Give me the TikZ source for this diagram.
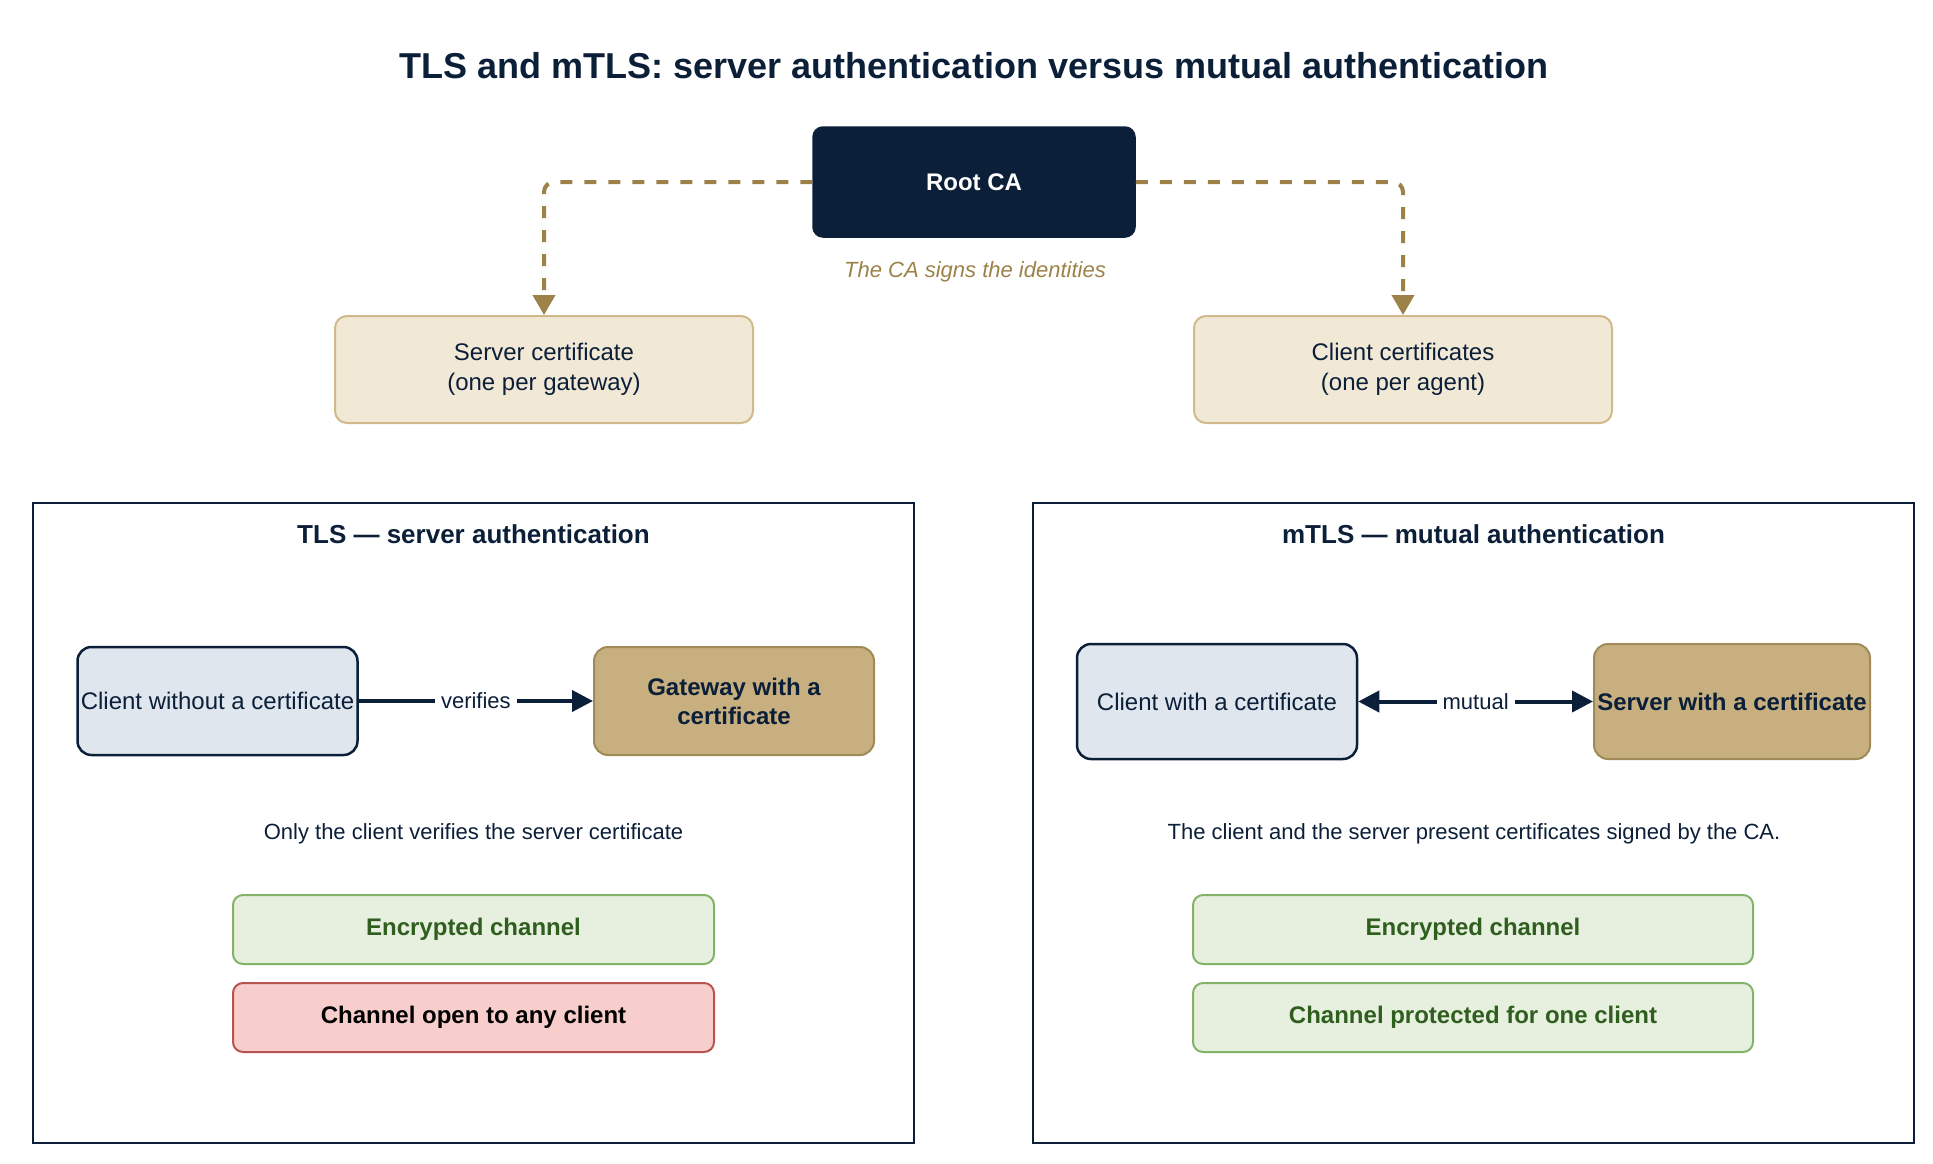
\documentclass[tikz,border=0pt]{standalone}
\usepackage{fontspec}
\setmainfont{Liberation Sans}
\usetikzlibrary{
arrows.meta,
positioning,
calc
}
\definecolor{navy}{HTML}{0B1F38}
\definecolor{gold}{HTML}{9C8248}
\definecolor{beige}{HTML}{F2E8D6}
\definecolor{beigeline}{HTML}{D0BA8C}
\definecolor{paleblue}{HTML}{DFE6EE}
\definecolor{sand}{HTML}{C8AF7F}
\definecolor{sandline}{HTML}{A08A55}
\definecolor{palegreen}{HTML}{E7F0DF}
\definecolor{greenline}{HTML}{82B366}
\definecolor{darkgreen}{HTML}{2F5E1F}
\definecolor{palered}{HTML}{F8CECC}
\definecolor{redline}{HTML}{B85450}

\begin{document}
\begin{tikzpicture}
[x=1pt, y=-1pt,
block_root/.style ={ rectangle, draw=navy, fill=navy, text=white, text centered, minimum width=322pt, minimum height=110pt, rounded corners=10pt, line width=1.5pt, font=\fontsize{24}{29}\selectfont\bfseries},
block_cert/.style ={ rectangle, draw=beigeline, fill=beige, text=navy, align=center, minimum width=418pt, minimum height=107pt, rounded corners=12pt, line width=2pt, font=\fontsize{24}{30}\selectfont},
block_client/.style ={ rectangle, draw=navy, fill=paleblue, text=navy, align=center, minimum width=280pt, minimum height=108pt, rounded corners=14pt, line width=2.5pt, inner sep=1pt, font=\fontsize{24}{29}\selectfont},
block_server/.style ={ rectangle, draw=sandline, fill=sand, text=navy, align=center, minimum width=280pt, minimum height=108pt, rounded corners=14pt, line width=2pt, inner sep=1pt, font=\fontsize{24}{29}\selectfont\bfseries},
block_good/.style ={ rectangle, draw=greenline, fill=palegreen, text=darkgreen, text centered, minimum height=69pt, rounded corners=10pt, line width=2pt, font=\fontsize{24}{29}\selectfont\bfseries},
block_bad/.style ={ block_good, draw=redline, fill=palered, text=black},
panel/.style ={ rectangle, draw=navy, line width=2.5pt, minimum width=881pt, minimum height=640pt},
panel_title/.style ={ text=navy, font=\fontsize{26}{31}\selectfont\bfseries},
note/.style ={ text=navy, font=\fontsize{22}{27}\selectfont},
line_sign/.style ={draw=gold, line width=4pt, dash pattern=on 12pt off 12pt, rounded corners=10pt, -{Triangle[length=20pt,width=22pt]}},
line_auth/.style ={draw=navy, line width=4pt, -{Triangle[length=21pt,width=21pt]}},
label_auth/.style ={fill=white, text=navy, inner sep=6pt, font=\fontsize{22}{27}\selectfont}
]

\useasboundingbox (0,0) rectangle (1933,1163);

%%%Title and CA%%%%
\node [text=navy, font=\fontsize{36}{43}\selectfont\bfseries] (title) at (974,66) {TLS and mTLS: server authentication versus mutual authentication};
\node [block_root] (rootca) at (974,182) {Root CA};
\node [text=gold, font=\fontsize{22}{27}\selectfont\itshape] (signs) at (975,272) {The CA signs the identities};
\node [block_cert] (servercert) at (544,369.5) {Server certificate\\(one per gateway)};
\node [block_cert] (clientcert) at (1403,369.5) {Client certificates\\(one per agent)};

%%%Panels%%%%
\node [panel] (tlspanel) at (473.5,823) {};
\node [panel] (mtlspanel) at (1473.5,823) {};
\node [panel_title] (tlstitle) at (473.5,534) {TLS — server authentication};
\node [panel_title] (mtlstitle) at (1473.5,534) {mTLS — mutual authentication};

% TLS
\node [block_client] (tlsclient) at (217.5,701) {Client without a certificate};
\node [block_server] (tlsgateway) at (734,701) {Gateway with a\\certificate};
\node [note] (tlsnote) at (473.5,834) {Only the client verifies the server certificate};
\node [block_good, minimum width=481pt] (tlsenc) at (473.5,929.5) {Encrypted channel};
\node [block_bad, minimum width=481pt] (tlsopen) at (473.5,1017.5) {Channel open to any client};

% mTLS
\node [block_client, minimum height=115pt] (mtlsclient) at (1217,701.5) {Client with a certificate};
\node [block_server, minimum width=276pt, minimum height=115pt] (mtlsserver) at (1732,701.5) {Server with a certificate};
\node [note] (mtlsnote) at (1474,834) {The client and the server present certificates signed by the CA.};
\node [block_good, minimum width=560pt] (mtlsenc) at (1473,929.5) {Encrypted channel};
\node [block_good, minimum width=560pt] (mtlsprot) at (1473,1017.5) {Channel protected for one client};

%%Arrows%%%
\draw[line_sign] (rootca.west) -| (servercert.north);
\draw[line_sign] (rootca.east) -| (clientcert.north);
\draw[line_auth] (tlsclient.east) -- node[label_auth] {verifies} (tlsgateway.west);
\draw[line_auth, {Triangle[length=21pt,width=21pt]}-{Triangle[length=21pt,width=21pt]}] (mtlsclient.east) -- node[label_auth] {mutual} (mtlsserver.west);

\end{tikzpicture}
\end{document}
